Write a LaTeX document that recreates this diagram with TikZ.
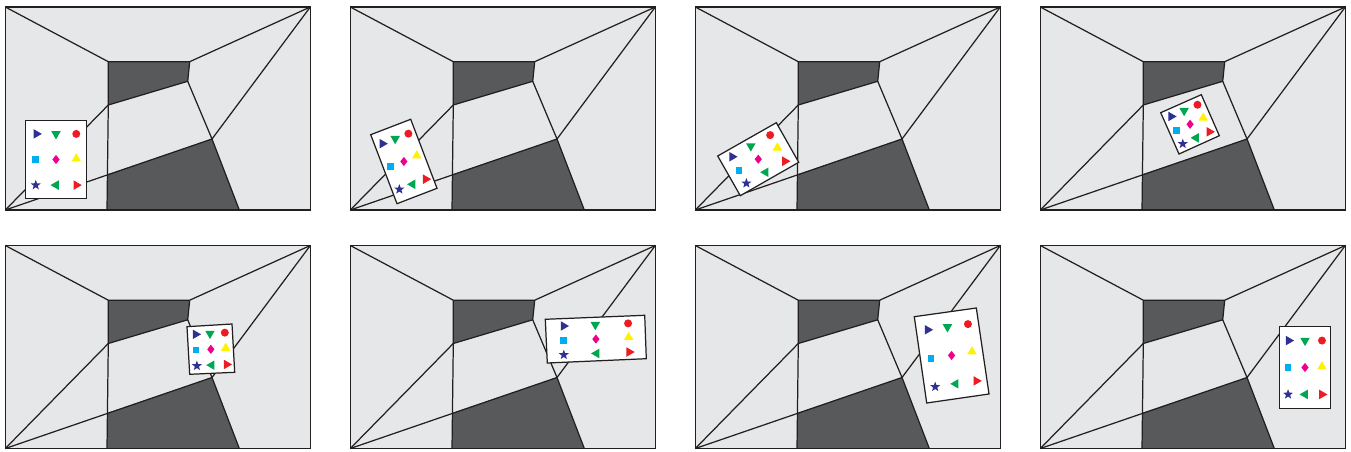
\documentclass[tikz,border=0pt]{standalone}
\usetikzlibrary{calc,shapes.geometric}

\definecolor{roomwall}{HTML}{E6E7E8}
\definecolor{roomdark}{HTML}{58595B}
\definecolor{roomline}{HTML}{231F20}
\definecolor{symblue}{HTML}{2E3192}
\definecolor{symgreen}{HTML}{00A651}
\definecolor{symred}{HTML}{ED1C24}
\definecolor{symcyan}{HTML}{00AEEF}
\definecolor{symmagenta}{HTML}{EC008C}
\definecolor{symyellow}{HTML}{FFF200}

\tikzset{
  edge/.style={draw=roomline,line width=0.7pt},
  symtri/.style={regular polygon,regular polygon sides=3,minimum size=0.22cm,inner sep=0pt},
  symsquare/.style={rectangle,minimum size=0.135cm,inner sep=0pt},
  symdiamond/.style={diamond,minimum width=0.15cm,minimum height=0.19cm,inner sep=0pt},
  symcircle/.style={circle,minimum size=0.16cm,inner sep=0pt},
  symstar/.style={star,star points=5,star point ratio=2.4,minimum size=0.21cm,inner sep=0pt}
}

\newcommand{\room}[2]{
\begin{scope}[shift={(#1,#2)}]
\coordinate (TL) at (0,0);
\coordinate (TR) at (305,0);
\coordinate (BR) at (305,203);
\coordinate (BL) at (0,203);
\coordinate (A) at (103,54.7);
\coordinate (B) at (184.4,54.7);
\coordinate (C) at (182.4,74.3);
\coordinate (D) at (103,98);
\coordinate (E) at (206.7,132);
\coordinate (F) at (234,203);
\coordinate (G) at (101.7,203);
\coordinate (H) at (101.7,167.5);
\fill[roomwall] (TL) rectangle (BR);
\fill[roomdark] (A) -- (B) -- (C) -- (D) -- cycle;
\fill[roomdark] (H) -- (E) -- (F) -- (G) -- cycle;
\draw[edge] (TL) rectangle (BR);
\draw[edge] (TL) -- (A) -- (B) -- (TR);
\draw[edge] (A) -- (D) -- (C) -- (B);
\draw[edge] (C) -- (E) -- (F);
\draw[edge] (D) -- (G);
\draw[edge] (BL) -- (D);
\draw[edge] (BL) -- (E);
\draw[edge] (E) -- (TR);
\end{scope}
}

\newcommand{\card}[5]{
\draw[edge,fill=white] #2 -- #3 -- #4 -- #5 -- cycle;
\foreach \sym/\ux/\vy/\shp/\col/\turn in {
  a/0.18/0.17/symtri/symblue/-90,
  b/0.5/0.17/symtri/symgreen/180,
  c/0.83/0.17/symcircle/symred/0,
  d/0.17/0.5/symsquare/symcyan/0,
  e/0.5/0.5/symdiamond/symmagenta/0,
  f/0.83/0.49/symtri/symyellow/0,
  g/0.17/0.83/symstar/symblue/0,
  h/0.5/0.83/symtri/symgreen/90,
  i/0.83/0.83/symtri/symred/-90}
{
\node[\shp,fill=\col,rotate=\turn]
(#1-\sym)
at ($($#2!\ux!#3$)!\vy!($#5!\ux!#4$)$)
{};
}
}

\begin{document}
\begin{tikzpicture}[x=0.02cm,y=-0.02cm]

\useasboundingbox (0,0) rectangle (1351,452);

\room{5.3}{7}
\room{350.3}{7}
\room{695.3}{7}
\room{1040.3}{7}
\room{5.3}{245.5}
\room{350.3}{245.5}
\room{695.3}{245.5}
\room{1040.3}{245.5}

\card{one}{(25.3,120.7)}{(86.7,120.7)}{(86.7,198.3)}{(25.3,198.3)}
\card{two}{(370.7,134.7)}{(410.7,119.3)}{(437,188.3)}{(397,203.7)}
\card{three}{(717.7,156)}{(776.3,122.7)}{(798.7,162.3)}{(740.3,195.7)}
\card{four}{(1160.7,112.7)}{(1201.3,94.7)}{(1219.3,135.7)}{(1179,154)}
\card{five}{(187,326.7)}{(232,324)}{(234.7,372.3)}{(189.7,374.3)}
\card{six}{(545.3,319.3)}{(644.7,315.3)}{(646.3,358.7)}{(547.3,363)}
\card{seven}{(914.3,316.7)}{(976.3,308)}{(989,394)}{(926.7,403)}
\card{eight}{(1279.3,326.7)}{(1330.7,326.7)}{(1330.7,408.3)}{(1279.3,408.3)}

\end{tikzpicture}
\end{document}
